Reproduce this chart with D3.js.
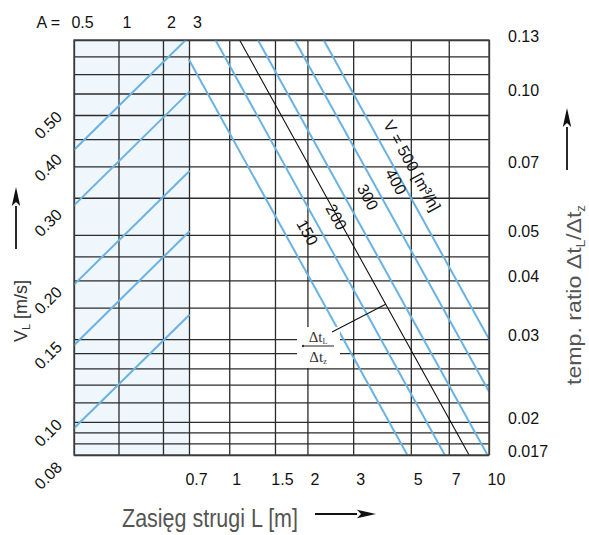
<!DOCTYPE html>
<html>
<head>
<meta charset="utf-8">
<script src="https://cdn.jsdelivr.net/npm/d3@7"></script>
<style>
  body { margin: 0; background: #fff; }
  svg { display: block; }
</style>
</head>
<body>
<svg id="chart" width="589" height="535"></svg>
<script>
// ---- scale values ----------------------------------------------------
const areaTicks = [0.5, 1, 2, 3];                       // A (top, shaded panel)
const throwTicks = [0.7, 1, 1.5, 2, 3, 5, 7, 10];       // L [m] (bottom)
const ratioGrid = [0.13, 0.12, 0.11, 0.10, 0.09, 0.08, 0.07, 0.06, 0.05, 0.045,
                   0.04, 0.035, 0.03, 0.028, 0.026, 0.024, 0.022, 0.02, 0.019, 0.018, 0.017];
const ratioLabels = [0.13, 0.10, 0.07, 0.05, 0.04, 0.03, 0.02, 0.017];
const ratioLabelText = ["0.13", "0.10", "0.07", "0.05", "0.04", "0.03", "0.02", "0.017"];
const velocityLabels = [0.08, 0.10, 0.15, 0.20, 0.30, 0.40, 0.50];

// ---- flow lines V [m³/h] ----------------------------------------------
const flows = [150, 200, 300, 400, 500];
// shaded panel: V_L against A
const leftFromA  = [0.5, 0.5, 0.5, 0.5, 0.5];
const leftFromVL = [0.092, 0.142, 0.195, 0.295, 0.394];
const leftToA    = [3, 3, 3, 3, 2.85];
const leftToVL   = [0.166, 0.257, 0.352, 0.533, 0.70];
// main panel: temperature ratio against L
const rightFromL     = [0.7, 0.885, 1.29, 1.785, 2.31];
const rightFromRatio = [0.118, 0.13, 0.13, 0.13, 0.13];
const rightToL       = [4.85, 6.76, 9.87, 10, 10];
const rightToRatio   = [0.017, 0.017, 0.017, 0.0232, 0.030];
// where each flow label sits (ratio level)
const flowLabelRatio = [0.0506, 0.0546, 0.0602, 0.0649, 0.0702];
const flowLabelText  = ["150", "200", "300", "400", "V = 500 [m³/h]"];
// reference line for the temperature ratio
const refLineL     = [1.096, 8.38];
const refLineRatio = [0.13, 0.017];
const refMarkL = 4.0, refMarkRatio = 0.0356;

// ---- layout ----------------------------------------------------------
const plotL = 74, plotM = 189, plotR = 489, plotT = 40, plotB = 455;
const xA = d3.scaleLog().domain([0.5, 3]).range([plotL, plotM]);
const xL = d3.scaleLog().domain([0.7, 10]).range([plotM, plotR]);
const yR = d3.scaleLog().domain([0.017, 0.13]).range([plotB, plotT]);
const yV = d3.scaleLog().domain([0.08, 0.70]).range([plotB, plotT]);

const svg = d3.select("#chart");
const FONT = "'Liberation Sans', Arial, Helvetica, sans-serif";
const SERIF = "'Liberation Serif', 'Times New Roman', serif";
const BLUE = "#6ab2e2";
const GRID = "#2b2b2b";

svg.append("defs").append("clipPath").attr("id", "plot")
  .append("rect").attr("x", plotL).attr("y", plotT)
  .attr("width", plotR - plotL).attr("height", plotB - plotT);

// shaded A panel
svg.append("rect")
  .attr("x", xA(0.5)).attr("y", plotT)
  .attr("width", xA(3) - xA(0.5)).attr("height", plotB - plotT)
  .attr("fill", "#eff7fd");

// grid lines
function gridStyle(g) {
  g.select(".domain").remove();
  g.selectAll(".tick line").attr("stroke", GRID).attr("stroke-width", 1.3);
}
svg.append("g").attr("transform", `translate(0,${plotB})`)
  .call(d3.axisBottom(xA).tickValues(areaTicks.slice(0, 3)).tickSize(-(plotB - plotT)).tickFormat(""))
  .call(gridStyle);
svg.append("g").attr("transform", `translate(0,${plotB})`)
  .call(d3.axisBottom(xL).tickValues(throwTicks).tickSize(-(plotB - plotT)).tickFormat(""))
  .call(gridStyle);
svg.append("g").attr("transform", `translate(${plotL},0)`)
  .call(d3.axisRight(yR).tickValues(ratioGrid).tickSize(plotR - plotL).tickFormat(""))
  .call(gridStyle);

// flow lines
const lines = svg.append("g").attr("clip-path", "url(#plot)")
  .attr("fill", "none").attr("stroke-linecap", "round");
flows.forEach((f, i) => {
  lines.append("line")
    .attr("x1", xA(leftFromA[i])).attr("y1", yV(leftFromVL[i]))
    .attr("x2", xA(leftToA[i])).attr("y2", yV(leftToVL[i]))
    .attr("stroke", BLUE).attr("stroke-width", 2);
  lines.append("line")
    .attr("x1", xL(rightFromL[i])).attr("y1", yR(rightFromRatio[i]))
    .attr("x2", xL(rightToL[i])).attr("y2", yR(rightToRatio[i]))
    .attr("stroke", BLUE).attr("stroke-width", 2);
});
lines.append("line")
  .attr("x1", xL(refLineL[0])).attr("y1", yR(refLineRatio[0]))
  .attr("x2", xL(refLineL[1])).attr("y2", yR(refLineRatio[1]))
  .attr("stroke", "#111").attr("stroke-width", 1.1);

// flow labels, set just right of each line, running along it
const angle = Math.atan2(
  yR(rightToRatio[0]) - yR(rightFromRatio[0]),
  xL(rightToL[0]) - xL(rightFromL[0])) * 180 / Math.PI;
flows.forEach((f, i) => {
  const yy = yR(flowLabelRatio[i]);
  const t = (yy - yR(rightFromRatio[i])) / (yR(rightToRatio[i]) - yR(rightFromRatio[i]));
  const xx = xL(rightFromL[i]) + t * (xL(rightToL[i]) - xL(rightFromL[i]));
  const off = i === 4 ? 19 : 23;
  svg.append("text")
    .attr("transform", `translate(${xx + off},${yy}) rotate(${angle})`)
    .attr("text-anchor", "middle").attr("dy", "0.35em")
    .attr("font-family", FONT).attr("font-size", 16).attr("fill", "#111")
    .text(flowLabelText[i]);
});

// temperature ratio legend with leader to the reference line
const fx = 318, fy = 346;
svg.append("rect").attr("x", 297).attr("y", 327).attr("width", 43).attr("height", 41).attr("fill", "#fff");
svg.append("line").attr("x1", 332).attr("y1", 332)
  .attr("x2", xL(refMarkL)).attr("y2", yR(refMarkRatio))
  .attr("stroke", "#111").attr("stroke-width", 1.1);
const num = svg.append("text").attr("x", fx).attr("y", fy - 4).attr("text-anchor", "middle")
  .attr("font-family", SERIF).attr("font-size", 15).attr("fill", "#333");
num.append("tspan").text("Δt");
num.append("tspan").attr("font-size", 8).attr("dy", 2).text("L");
const den = svg.append("text").attr("x", fx).attr("y", fy + 16).attr("text-anchor", "middle")
  .attr("font-family", SERIF).attr("font-size", 15).attr("fill", "#333");
den.append("tspan").text("Δt");
den.append("tspan").attr("font-size", 8).attr("dy", 2).text("z");
svg.append("line").attr("x1", 303).attr("x2", 334).attr("y1", fy).attr("y2", fy)
  .attr("stroke", "#333").attr("stroke-width", 1.1);
svg.append("circle").attr("cx", 303).attr("cy", fy).attr("r", 1.2).attr("fill", "#333");

// border
svg.append("rect").attr("x", plotL).attr("y", plotT)
  .attr("width", plotR - plotL).attr("height", plotB - plotT)
  .attr("fill", "none").attr("stroke", "#444").attr("stroke-width", 1.4);

// ---- tick labels -------------------------------------------------------
function labelStyle(g) {
  g.select(".domain").remove();
  g.selectAll(".tick line").remove();
  g.selectAll("text").attr("font-family", FONT).attr("font-size", 16).attr("fill", "#111");
}
svg.append("g").attr("transform", "translate(8,28)")
  .call(d3.axisTop(xA).tickValues(areaTicks).tickSize(0).tickPadding(0).tickFormat(d => String(d)))
  .call(labelStyle)
  .call(g => g.selectAll("text").attr("y", 0).attr("dy", 0));
svg.append("text").attr("x", 60).attr("y", 28).attr("text-anchor", "end")
  .attr("font-family", FONT).attr("font-size", 16).attr("fill", "#111").text("A =");

svg.append("g").attr("transform", "translate(7,485)")
  .call(d3.axisBottom(xL).tickValues(throwTicks).tickSize(0).tickPadding(0).tickFormat(d => String(d)))
  .call(labelStyle)
  .call(g => g.selectAll("text").attr("y", 0).attr("dy", 0));

svg.append("g").attr("transform", "translate(508,1.5)")
  .call(d3.axisRight(yR).tickValues(ratioLabels).tickSize(0).tickPadding(0)
    .tickFormat(d => ratioLabelText[ratioLabels.indexOf(d)]))
  .call(labelStyle)
  .call(g => g.selectAll("text").attr("x", 0).attr("dy", 0).attr("text-anchor", "start"));

svg.append("g").attr("transform", "translate(63,13)")
  .call(d3.axisLeft(yV).tickValues(velocityLabels).tickSize(0).tickPadding(0).tickFormat(d3.format(".2f")))
  .call(labelStyle)
  .call(g => g.selectAll("text").attr("x", 0).attr("dy", 0)
    .attr("text-anchor", "end").attr("transform", "rotate(-45)"));

// ---- axis titles and arrows -------------------------------------------
function arrow(x1, y1, x2, y2) {
  const a = Math.atan2(y2 - y1, x2 - x1), len = 19, hw = 4.2;
  const bx = x2 - len * Math.cos(a), by = y2 - len * Math.sin(a);
  svg.append("line").attr("x1", x1).attr("y1", y1).attr("x2", bx).attr("y2", by)
    .attr("stroke", "#111").attr("stroke-width", 1.8);
  const px = -Math.sin(a) * hw, py = Math.cos(a) * hw;
  svg.append("path")
    .attr("d", `M${x2},${y2}L${bx + px},${by + py}L${bx + 4 * Math.cos(a)},${by + 4 * Math.sin(a)}L${bx - px},${by - py}Z`)
    .attr("fill", "#111");
}
arrow(16, 249, 16, 187);
arrow(567, 170, 567, 108);
arrow(315, 514, 376, 514);

svg.append("text").attr("x", 122).attr("y", 527)
  .attr("font-family", FONT).attr("font-size", 25).attr("fill", "#555")
  .attr("textLength", 176).attr("lengthAdjust", "spacingAndGlyphs")
  .text("Zasięg strugi L [m]");

const vl = svg.append("text").attr("transform", "translate(27,311) rotate(-90)")
  .attr("text-anchor", "middle").attr("font-family", FONT).attr("font-size", 18).attr("fill", "#333");
vl.append("tspan").text("V");
vl.append("tspan").attr("font-size", 11).attr("dy", 3).text("L");
vl.append("tspan").attr("dy", -3).text(" [m/s]");

const rt = svg.append("text").attr("transform", "translate(581,295) rotate(-90)")
  .attr("text-anchor", "middle").attr("font-family", FONT).attr("font-size", 21).attr("fill", "#555")
  .attr("textLength", 180).attr("lengthAdjust", "spacingAndGlyphs");
rt.append("tspan").text("temp. ratio Δt");
rt.append("tspan").attr("font-size", 12).attr("dy", 4).text("L");
rt.append("tspan").attr("dy", -4).text("/Δt");
rt.append("tspan").attr("font-size", 12).attr("dy", 4).text("z");
</script>
</body>
</html>
